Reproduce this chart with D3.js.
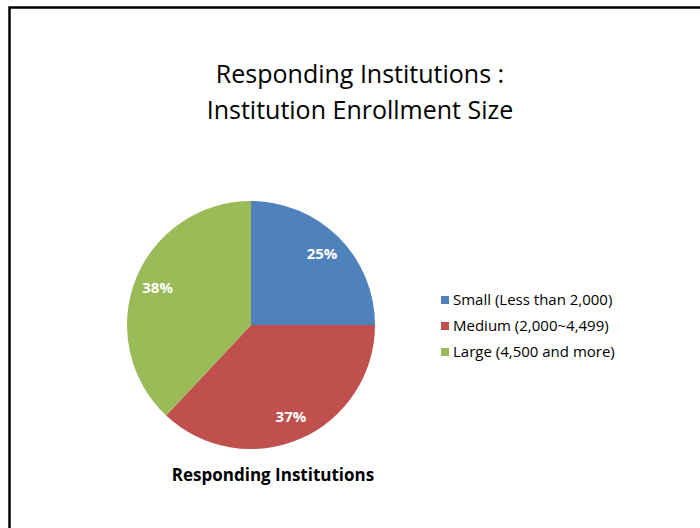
<!DOCTYPE html>
<html>
<head>
<meta charset="utf-8">
<script src="https://cdn.jsdelivr.net/npm/d3@7"></script>
<style>
  body { margin: 0; background: #fff; }
  svg { display: block; font-family: "Open Sans", "Noto Sans", sans-serif; }
</style>
</head>
<body>
<div id="chart"></div>
<script>
// data
const categories = ["Small (Less than 2,000)", "Medium (2,000~4,499)", "Large (4,500 and more)"];
const values = [25, 37, 38];
const colors = ["#4F81BD", "#C0504D", "#9BBB59"];
const titleLines = ["Responding Institutions :", "Institution Enrollment Size"];
const seriesName = "Responding Institutions";

const width = 700, height = 528;
const cx = 251, cy = 325, radius = 124;

const svg = d3.select("#chart").append("svg")
  .attr("width", width)
  .attr("height", height);

// frame (only top and left show inside the picture)
svg.append("rect")
  .attr("x", 9.5).attr("y", 7.5)
  .attr("width", width).attr("height", height)
  .attr("fill", "none")
  .attr("stroke", "#000")
  .attr("stroke-width", 2.5);

// title
svg.append("g").selectAll("text")
  .data(titleLines)
  .enter().append("text")
  .attr("x", 360)
  .attr("y", (d, i) => 83 + i * 36)
  .attr("text-anchor", "middle")
  .style("font-size", "25px")
  .style("fill", "#000")
  .text(d => d);

const data = categories.map((c, i) => ({ label: c, value: values[i], color: colors[i] }));

const pie = d3.pie().value(d => d.value).sort(null);
const arc = d3.arc().innerRadius(0).outerRadius(radius);
const labelArc = d3.arc().innerRadius(radius * 0.81).outerRadius(radius * 0.81);

const g = svg.append("g").attr("transform", `translate(${cx},${cy})`);
const arcs = pie(data);

g.selectAll("path")
  .data(arcs)
  .enter().append("path")
  .attr("d", arc)
  .attr("fill", d => d.data.color);

g.selectAll(".pct")
  .data(arcs)
  .enter().append("text")
  .attr("class", "pct")
  .attr("transform", d => `translate(${labelArc.centroid(d)})`)
  .attr("text-anchor", "middle")
  .attr("dy", "0.35em")
  .style("font-size", "15px")
  .style("font-weight", "bold")
  .style("fill", "#fff")
  .text(d => d.data.value + "%");

// series label under the pie
svg.append("text")
  .attr("x", 273)
  .attr("y", 481)
  .attr("text-anchor", "middle")
  .style("font-size", "17px")
  .style("font-weight", "bold")
  .text(seriesName);

// legend
const legend = svg.append("g").attr("transform", "translate(441,300)");
const rows = legend.selectAll("g")
  .data(data)
  .enter().append("g")
  .attr("transform", (d, i) => `translate(0,${i * 26})`);

rows.append("rect")
  .attr("x", 0).attr("y", -4)
  .attr("width", 8).attr("height", 8)
  .attr("fill", d => d.color);

rows.append("text")
  .attr("x", 12)
  .attr("dy", "0.35em")
  .style("font-size", "15px")
  .text(d => d.label);
</script>
</body>
</html>
